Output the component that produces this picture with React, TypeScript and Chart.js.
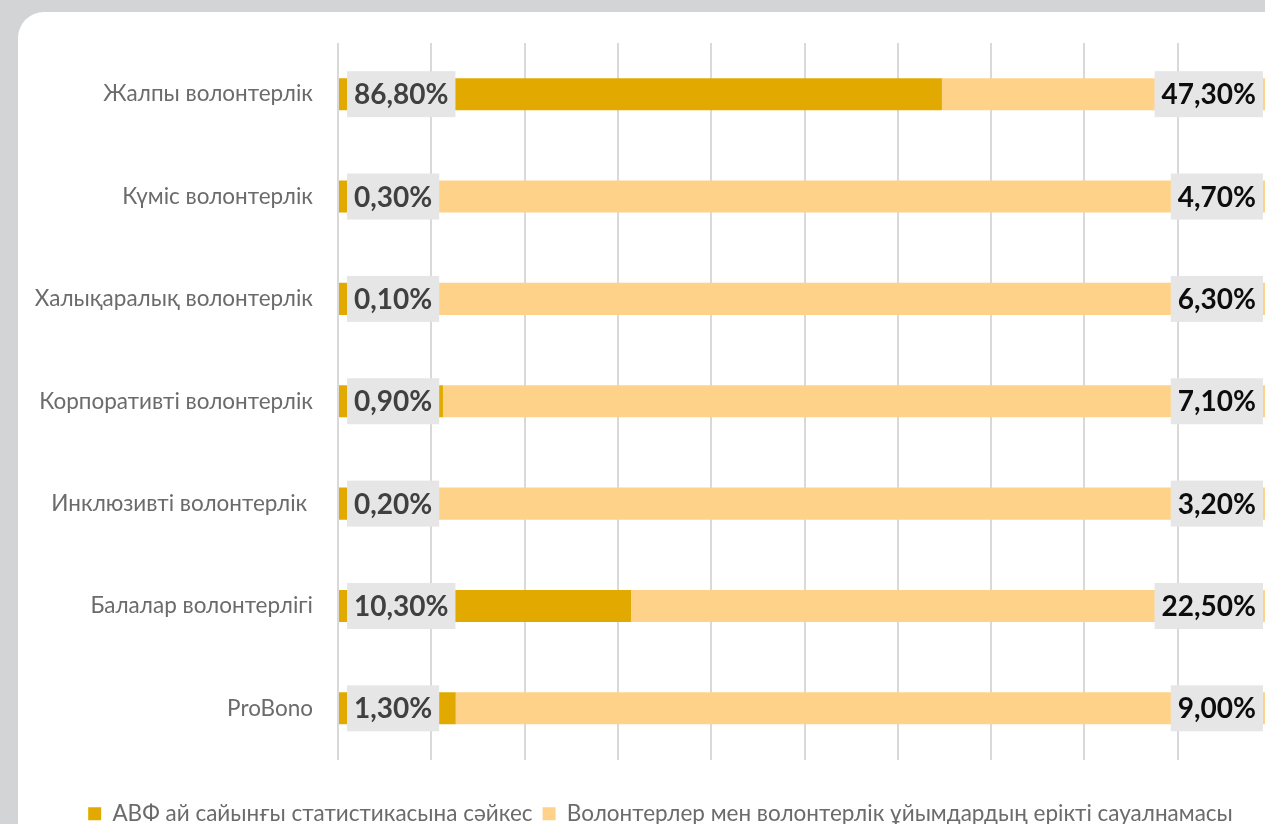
import React, { useEffect, useRef } from "react";
import { Chart, registerables } from "chart.js";

Chart.register(...registerables);

const categories = [
  "Жалпы волонтерлік",
  "Күміс волонтерлік",
  "Халықаралық волонтерлік",
  "Корпоративті волонтерлік",
  "Инклюзивті волонтерлік ",
  "Балалар волонтерлігі",
  "ProBono",
];
const avfValues = [86.8, 0.3, 0.1, 0.9, 0.2, 10.3, 1.3];
const surveyValues = [47.3, 4.7, 6.3, 7.1, 3.2, 22.5, 9.0];
const seriesNames = [
  "АВФ ай сайынғы статистикасына сәйкес",
  "Волонтерлер мен волонтерлік ұйымдардың ерікті сауалнамасы",
];
const xTickMin = 0;
const xTickMax = 100;
const xTickStep = 10;

const FONT = "Lato, 'Open Sans', 'Noto Sans', sans-serif";

const fmt = (v: number) => v.toFixed(2).replace(".", ",") + "%";

const totals = categories.map((_, i) => avfValues[i] + surveyValues[i]);
const avfShare = avfValues.map((v, i) => (v / totals[i]) * 100);
const surveyShare = surveyValues.map((v, i) => (v / totals[i]) * 100);
const rawValues = [avfValues, surveyValues];

const labelPlugin = {
  id: "boxLabels",
  afterDatasetsDraw(chart: any) {
    const ctx = chart.ctx;
    ctx.save();
    ctx.font = `bold 28px ${FONT}`;
    ctx.textBaseline = "middle";
    chart.data.datasets.forEach((ds: any, di: number) => {
      const meta = chart.getDatasetMeta(di);
      meta.data.forEach((bar: any, i: number) => {
        const text = fmt(rawValues[di][i]);
        const tw = ctx.measureText(text).width;
        const bw = tw + 14;
        const bh = 46;
        const left = di === 0 ? Math.min(bar.base, bar.x) + 8 : Math.max(bar.base, bar.x) - 8 - bw;
        ctx.fillStyle = "#e6e6e6";
        ctx.fillRect(left, bar.y - bh / 2, bw, bh);
        ctx.fillStyle = di === 0 ? "#404040" : "#0d0d0d";
        ctx.textAlign = "left";
        ctx.fillText(text, left + 7, bar.y + 1);
      });
    });
    ctx.restore();
  },
};

const legendShiftPlugin = {
  id: "legendShift",
  afterLayout(chart: any) {
    const lg = chart.legend;
    if (lg) {
      lg.left += 16;
      lg.right += 16;
    }
  },
};

export default function App() {
  const ref = useRef<HTMLCanvasElement | null>(null);
  useEffect(() => {
    if (!ref.current) return;
    const chart = new Chart(ref.current, {
      type: "bar",
      data: {
        labels: categories,
        datasets: [
          {
            label: seriesNames[0],
            data: avfShare,
            backgroundColor: "#e2aa00",
            borderWidth: 0,
            barPercentage: 0.313,
            categoryPercentage: 1,
          },
          {
            label: seriesNames[1],
            data: surveyShare,
            backgroundColor: "#ffd28a",
            borderWidth: 0,
            barPercentage: 0.313,
            categoryPercentage: 1,
          },
        ],
      },
      options: {
        indexAxis: "y",
        responsive: false,
        animation: false,
        layout: { padding: { left: 0, right: 35, top: 31, bottom: 0 } },
        scales: {
          x: {
            stacked: true,
            min: xTickMin,
            max: xTickMax,
            ticks: { display: false, stepSize: xTickStep },
            grid: { color: "#d9d9d9", lineWidth: 2, drawTicks: false },
            border: { display: false },
            afterFit: (s: any) => {
              s.height = 33;
              s.paddingLeft = 0;
              s.paddingRight = 0;
            },
          },
          y: {
            stacked: true,
            ticks: {
              color: "#6b6b6b",
              padding: 25,
              font: { family: FONT, size: 22.5 },
            },
            grid: { display: false, drawTicks: false },
            border: { display: false },
            afterFit: (s: any) => {
              s.width = 320;
              s.paddingTop = 0;
              s.paddingBottom = 0;
            },
          },
        },
        plugins: {
          legend: {
            position: "bottom",
            labels: {
              boxWidth: 13,
              boxHeight: 13,
              color: "#6b6b6b",
              padding: 10,
              font: { family: FONT, size: 22.5 },
            },
          },
          tooltip: { enabled: false },
        },
      },
      plugins: [labelPlugin, legendShiftPlugin],
    });
    return () => chart.destroy();
  }, []);

  return (
    <div
      style={{
        position: "fixed",
        left: 0,
        top: 0,
        width: 1265,
        height: 824,
        overflow: "hidden",
        background: "#d3d4d6",
      }}
    >
      <div
        style={{
          position: "absolute",
          left: 18,
          top: 12,
          width: 1300,
          height: 860,
          background: "#ffffff",
          borderTopLeftRadius: 26,
          overflow: "hidden",
        }}
      >
        <canvas ref={ref} width={1288} height={823} style={{ display: "block" }} />
      </div>
    </div>
  );
}
